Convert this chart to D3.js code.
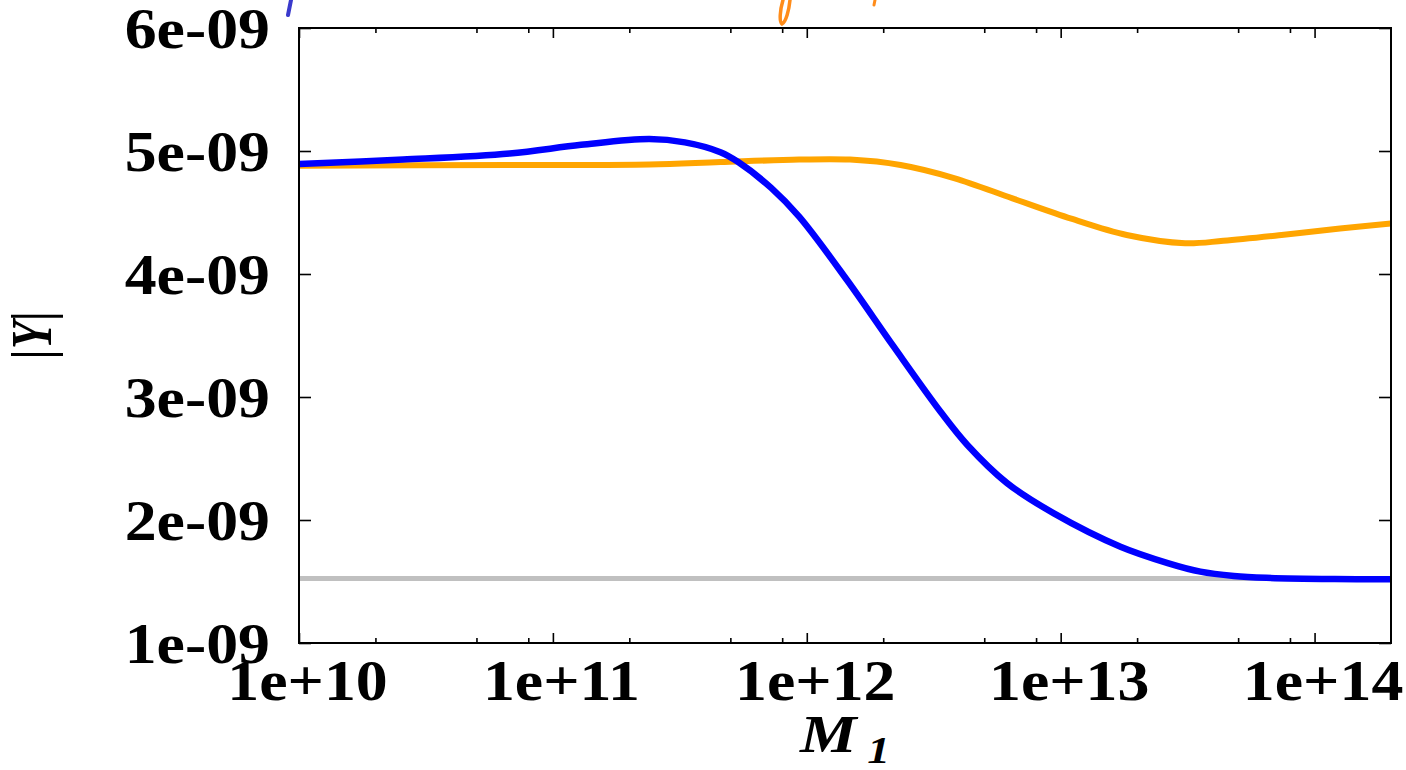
<!DOCTYPE html>
<html>
<head>
<meta charset="utf-8">
<script src="https://cdn.jsdelivr.net/npm/d3@7"></script>
<style>
  body { margin: 0; background: #fff; }
</style>
</head>
<body>
<svg id="chart" width="1406" height="770"></svg>
<script>
// values, |Y| in units of 1e-9
const mBlue = [1.0e10, 2.57e10, 6.76e10, 1.29e11, 2.4e11, 3.31e11, 4.57e11, 5.37e11, 7.24e11, 9.33e11,
               1.44e12, 2.2e12, 3.37e12, 4.29e12, 6.15e12, 9.4e12, 1.72e13, 2.64e13, 3.55e13, 4.81e13,
               6.46e13, 1.2e14, 2.0e14];
const yBlue = [4.894, 4.93, 4.98, 5.05, 5.097, 5.07, 4.99, 4.91, 4.70, 4.466,
               3.951, 3.409, 2.878, 2.61, 2.30, 2.054, 1.783, 1.65, 1.58, 1.545,
               1.53, 1.52, 1.518];

const mOrange = [1.0e10, 6.76e10, 2.4e11, 4.57e11, 9.33e11, 1.48e12, 2.34e12, 3.8e12, 6.46e12,
                 1.1e13, 1.82e13, 3.09e13, 4.37e13, 7.41e13, 1.26e14, 2.0e14];
const yOrange = [4.88, 4.886, 4.89, 4.91, 4.93, 4.93, 4.886, 4.78, 4.615,
                 4.45, 4.317, 4.25, 4.27, 4.317, 4.37, 4.41];

const grayLevel = 1.525;

const xMajor = [1e10, 1e11, 1e12, 1e13, 1e14];
const xMajorLabels = ["1e+10", "1e+11", "1e+12", "1e+13", "1e+14"];
const xMinor = [2e10, 5e10, 8e10, 2e11, 5e11, 8e11, 2e12, 5e12, 8e12, 2e13, 5e13, 8e13];
const yMajor = [1, 2, 3, 4, 5, 6];
const yMajorLabels = ["1e-09", "2e-09", "3e-09", "4e-09", "5e-09", "6e-09"];

const margin = { top: 28, right: 15, bottom: 127, left: 299 },
      width = 1406 - margin.left - margin.right,
      height = 770 - margin.top - margin.bottom;

const font = "'Liberation Serif', 'Times New Roman', serif";
const stretch = 1.12;

const svg = d3.select("#chart");

// bits of a cut-off annotation above the frame
svg.append("path")
    .attr("d", "M291,0 C290,5 289,10 288,15")
    .attr("fill", "none").attr("stroke", "#3a3acc").attr("stroke-width", 4)
    .attr("stroke-linecap", "round");
svg.append("path")
    .attr("d", "M790,0 C789,10 786,22 782,24 C779,22 780,10 783,0")
    .attr("fill", "none").attr("stroke", "#ff8c1a").attr("stroke-width", 3.5)
    .attr("stroke-linecap", "round");
svg.append("path")
    .attr("d", "M875,0 L874,5")
    .attr("fill", "none").attr("stroke", "#ff8c1a").attr("stroke-width", 3)
    .attr("stroke-linecap", "round");

const g = svg.append("g")
    .attr("transform", `translate(${margin.left},${margin.top})`);

const x = d3.scaleLog().domain([1e10, 2e14]).range([0, width]);
const y = d3.scaleLinear().domain([1, 6]).range([height, 0]);

g.append("clipPath").attr("id", "plot-clip")
    .append("rect").attr("width", width).attr("height", height);

// reference level
g.append("line")
    .attr("x1", 0).attr("x2", width)
    .attr("y1", y(grayLevel)).attr("y2", y(grayLevel))
    .attr("stroke", "#c0c0c0").attr("stroke-width", 5)
    .attr("clip-path", "url(#plot-clip)");

const line = d3.line()
    .x(d => x(d[0]))
    .y(d => y(d[1]))
    .curve(d3.curveCatmullRom.alpha(0.5));

g.append("path")
    .datum(mOrange.map((m, i) => [m, yOrange[i]]))
    .attr("fill", "none").attr("stroke", "#ffa500").attr("stroke-width", 6)
    .attr("clip-path", "url(#plot-clip)")
    .attr("d", line);

g.append("path")
    .datum(mBlue.map((m, i) => [m, yBlue[i]]))
    .attr("fill", "none").attr("stroke", "#0000ff").attr("stroke-width", 6.5)
    .attr("clip-path", "url(#plot-clip)")
    .attr("d", line);

function styleAxis(sel) {
    sel.select(".domain").remove();
    sel.selectAll(".tick line").attr("stroke", "#000").attr("stroke-width", 1.6);
    sel.attr("font-family", font).attr("font-size", 57).attr("font-weight", "bold");
}

// bottom
g.append("g")
    .attr("transform", `translate(0,${height})`)
    .call(d3.axisBottom(x).tickValues(xMajor).tickSize(-10).tickFormat((d, i) => xMajorLabels[i]))
    .call(styleAxis)
    .call(s => s.selectAll(".tick text")
        .attr("fill", "#000")
        .attr("y", 57).attr("dy", null)
        .attr("x", 8 / stretch)
        .attr("transform", `scale(${stretch},1)`));

g.append("g")
    .attr("transform", `translate(0,${height})`)
    .call(d3.axisBottom(x).tickValues(xMinor).tickSize(-5).tickFormat(""))
    .call(styleAxis);

// top mirror
g.append("g")
    .call(d3.axisTop(x).tickValues(xMajor).tickSize(-10).tickFormat(""))
    .call(styleAxis);
g.append("g")
    .call(d3.axisTop(x).tickValues(xMinor).tickSize(-5).tickFormat(""))
    .call(styleAxis);

// left
g.append("g")
    .call(d3.axisLeft(y).tickValues(yMajor).tickSize(-12).tickFormat((d, i) => yMajorLabels[i]))
    .call(styleAxis)
    .call(s => s.selectAll(".tick text")
        .attr("fill", "#000")
        .attr("x", -29 / stretch)
        .attr("dy", "0.35em")
        .attr("transform", `scale(${stretch},1)`));

// right mirror
g.append("g")
    .attr("transform", `translate(${width},0)`)
    .call(d3.axisRight(y).tickValues(yMajor).tickSize(-12).tickFormat(""))
    .call(styleAxis);

// frame
g.append("rect")
    .attr("width", width).attr("height", height)
    .attr("fill", "none").attr("stroke", "#000").attr("stroke-width", 2);

// axis titles
svg.append("text")
    .attr("transform", `translate(51,335) scale(1.25,1) rotate(-90)`)
    .attr("text-anchor", "middle")
    .attr("font-family", font).attr("font-size", 46)
    .attr("font-weight", "bold").attr("font-style", "italic")
    .text("|Y|");

const xTitle = svg.append("text")
    .attr("transform", `translate(800,752) scale(1.2,1)`)
    .attr("font-family", font).attr("font-weight", "bold").attr("font-style", "italic");
xTitle.append("tspan").attr("font-size", 53).text("M");
xTitle.append("tspan").attr("font-size", 38).attr("dx", 9).attr("dy", 11).text("1");
</script>
</body>
</html>
